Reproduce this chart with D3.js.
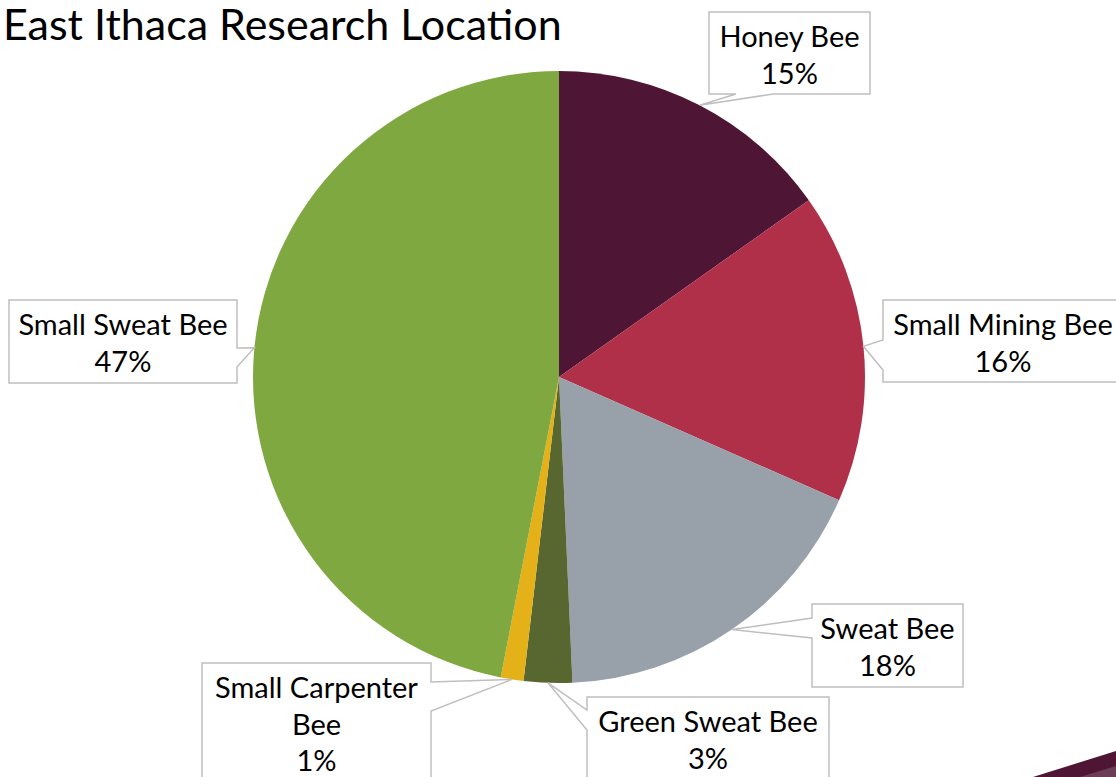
<!DOCTYPE html>
<html>
<head>
<meta charset="utf-8">
<title>East Ithaca Research Location</title>
<script src="https://d3js.org/d3.v7.min.js"></script>
<style>
  body { margin: 0; background: #fff; }
  svg { display: block; font-family: Lato, "Open Sans", sans-serif; }
</style>
</head>
<body>
<script>
// bee share at the East Ithaca site (percent)
var categories = ["Honey Bee", "Small Mining Bee", "Sweat Bee", "Green Sweat Bee", "Small Carpenter Bee", "Small Sweat Bee"];
var values = [15.2, 16.4, 17.7, 2.55, 1.2, 46.95];
var colors = ["#4f1535", "#b0304a", "#98a0a9", "#58672f", "#e5b118", "#80a840"];
// label text lines (category name wraps in one box)
var labelLines = [["Honey Bee"], ["Small Mining Bee"], ["Sweat Bee"], ["Green Sweat Bee"], ["Small Carpenter", "Bee"], ["Small Sweat Bee"]];

var width = 1116, height = 777;
var cx = 559, cy = 377, radius = 306;

// callout boxes: x, y, w, h, which side the pointer leaves from, and the notch span along that side
var boxes = [
  {x: 709, y: 12, w: 161, h: 82, side: "bottom", n0: 736, n1: 773},
  {x: 883, y: 300, w: 250, h: 82, side: "left", n0: 340, n1: 370},
  {x: 812, y: 604, w: 151, h: 83, side: "left", n0: 618, n1: 638},
  {x: 587, y: 697, w: 242, h: 110, side: "left", n0: 710, n1: 730},
  {x: 202, y: 663, w: 229, h: 140, side: "right", n0: 682, n1: 711},
  {x: 9, y: 300, w: 228, h: 83, side: "right", n0: 348, n1: 367}
];

var svg = d3.select("body").append("svg")
  .attr("width", width)
  .attr("height", height);

// decorative corner from the slide
svg.append("path")
  .attr("d", "M1033,777 L1116,751 L1116,777 Z")
  .attr("fill", "#4f1535");
svg.append("path")
  .attr("d", "M1080,777 L1116,766 L1116,777 Z")
  .attr("fill", "#6b3d57");

svg.append("text")
  .attr("x", 3)
  .attr("y", 40)
  .attr("font-size", 43)
  .attr("fill", "#000")
  .text("East Ithaca Research Location");

var total = d3.sum(values);
var pie = d3.pie().sort(null).value(function(d) { return d; });
var arc = d3.arc().innerRadius(0).outerRadius(radius);
var arcs = pie(values);

var g = svg.append("g").attr("transform", "translate(" + cx + "," + cy + ")");

g.selectAll("path")
  .data(arcs)
  .enter().append("path")
    .attr("d", arc)
    .attr("fill", function(d, i) { return colors[i]; });

var pct = d3.format(".0%");

function callout(b, tip) {
  var x0 = b.x, y0 = b.y, x1 = b.x + b.w, y1 = b.y + b.h;
  var p;
  if (b.side == "bottom") {
    p = [[x0, y0], [x1, y0], [x1, y1], [b.n1, y1], tip, [b.n0, y1], [x0, y1]];
  } else if (b.side == "left") {
    p = [[x0, y0], [x1, y0], [x1, y1], [x0, y1], [x0, b.n1], tip, [x0, b.n0]];
  } else {
    p = [[x0, y0], [x1, y0], [x1, b.n0], tip, [x1, b.n1], [x1, y1], [x0, y1]];
  }
  return "M" + p.map(function(q) { return q[0] + "," + q[1]; }).join("L") + "Z";
}

var labels = svg.append("g").selectAll("g")
  .data(arcs)
  .enter().append("g");

labels.append("path")
  .attr("d", function(d, i) {
    var a = (d.startAngle + d.endAngle) / 2;
    var tip = [cx + radius * Math.sin(a), cy - radius * Math.cos(a)];
    return callout(boxes[i], tip);
  })
  .attr("fill", "#fff")
  .attr("stroke", "#bfbfbf")
  .attr("stroke-width", 1.5);

labels.each(function(d, i) {
  var b = boxes[i];
  var lines = labelLines[i].concat([pct(values[i] / total)]);
  var t = d3.select(this).append("text")
    .attr("text-anchor", "middle")
    .attr("font-size", 29)
    .attr("fill", "#000");
  lines.forEach(function(s, k) {
    t.append("tspan")
      .attr("x", b.x + (i == 1 ? 120 : b.w / 2))
      .attr("y", b.y + 35 + k * 36.5)
      .text(s);
  });
});
</script>
</body>
</html>
